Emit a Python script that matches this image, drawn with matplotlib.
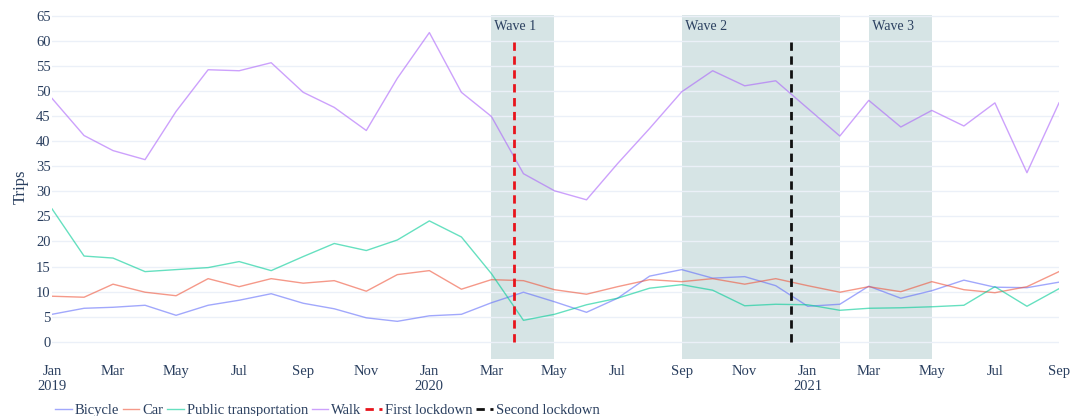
import matplotlib
matplotlib.use("Agg")
import matplotlib.pyplot as plt
import pandas as pd

dates = pd.date_range("2019-01-01", "2021-09-01", freq="MS")
bicycle = [5.5, 6.7, 6.9, 7.3, 5.3, 7.3, 8.3, 9.6, 7.7, 6.6, 4.8, 4.1,
           5.2, 5.5, 7.8, 9.9, 8.0, 5.9, 8.7, 13.1, 14.4, 12.7, 13.0, 11.2,
           7.1, 7.5, 11.1, 8.7, 10.2, 12.3, 10.9, 10.8, 11.9]
car = [9.1, 8.9, 11.5, 9.9, 9.2, 12.6, 11.0, 12.6, 11.7, 12.2, 10.1, 13.4,
       14.2, 10.5, 12.4, 12.2, 10.4, 9.5, 11.0, 12.4, 12.0, 12.6, 11.5, 12.6,
       11.2, 9.9, 11.0, 10.0, 12.0, 10.4, 9.8, 11.0, 14.0]
public_transport = [26.5, 17.1, 16.7, 14.0, 14.4, 14.8, 16.0, 14.2, 17.0, 19.6, 18.2, 20.3,
                    24.1, 20.9, 13.6, 4.3, 5.5, 7.4, 8.7, 10.7, 11.4, 10.3, 7.2, 7.5,
                    7.4, 6.3, 6.7, 6.8, 7.0, 7.3, 11.0, 7.1, 10.6]
walk = [48.5, 41.1, 38.1, 36.3, 45.9, 54.2, 54.0, 55.6, 49.7, 46.7, 42.1, 52.5,
        61.6, 49.7, 44.9, 33.5, 30.1, 28.3, 35.5, 42.5, 49.8, 54.0, 51.0, 52.0,
        46.5, 41.0, 48.1, 42.8, 46.1, 43.0, 47.6, 33.7, 47.6]

series_names = ["Bicycle", "Car", "Public transportation", "Walk"]
series_colors = ["#636efa", "#EF553B", "#00cc96", "#ab63fa"]

waves = [("Wave 1", "2020-03-01", "2020-05-01"),
         ("Wave 2", "2020-09-01", "2021-02-01"),
         ("Wave 3", "2021-03-01", "2021-05-01")]
lockdowns = [("First lockdown", "2020-03-23", "#e8141c"),
             ("Second lockdown", "2020-12-16", "#111111")]
lockdown_top = 60

text_color = "#2a3f5f"
plt.rcParams['font.family'] = ['Liberation Serif', 'DejaVu Serif']

fig = plt.figure(figsize=(10.74, 4.16), dpi=100)
ax = fig.add_axes([52/1074, 57/416, 1007/1074, 344/416])

for name, s, e in waves:
    ax.axvspan(pd.Timestamp(s), pd.Timestamp(e), color="#d6e4e5", zorder=0.3, lw=0)
    ax.text(pd.Timestamp(s), 64.2, " " + name, ha="left", va="top",
            fontsize=10, color=text_color, zorder=5)

data = [bicycle, car, public_transport, walk]
handles = []
for name, vals, c in zip(series_names, data, series_colors):
    l, = ax.plot(dates, vals, color=c, lw=1.0, alpha=0.6, label=name, zorder=3)
    handles.append(l)

for name, d, c in lockdowns:
    l, = ax.plot([pd.Timestamp(d)] * 2, [0, lockdown_top], color=c, lw=2,
                 linestyle=(0, (3, 2)), label=name, zorder=4)
    handles.append(l)

ax.set_xlim(dates[0], dates[-1])
ax.set_ylim(-3.4, 65.1)
ax.set_yticks(range(0, 66, 5))
ax.grid(axis="y", color="#EBF0F8", lw=1, zorder=0.5)
ax.set_axisbelow(True)

ticks = dates[::2]
labels = [d.strftime("%b") + ("\n" + d.strftime("%Y") if d.month == 1 else "") for d in ticks]
ax.set_xticks(ticks)
ax.set_xticklabels(labels, linespacing=1.25)
for sp in ax.spines.values():
    sp.set_visible(False)
ax.tick_params(axis="both", length=0, labelsize=10.5, colors=text_color)
ax.tick_params(axis="x", pad=4)
ax.tick_params(axis="y", pad=1)
ax.set_ylabel("Trips", fontsize=12, color=text_color, labelpad=5)

fig.legend(handles=handles, loc="lower left", bbox_to_anchor=(0.039, -0.035),
           ncol=6, frameon=False, fontsize=10.5, handlelength=1.15,
           handletextpad=0.2, columnspacing=0.25, labelcolor=text_color)

fig.savefig("out.png", dpi=100)
